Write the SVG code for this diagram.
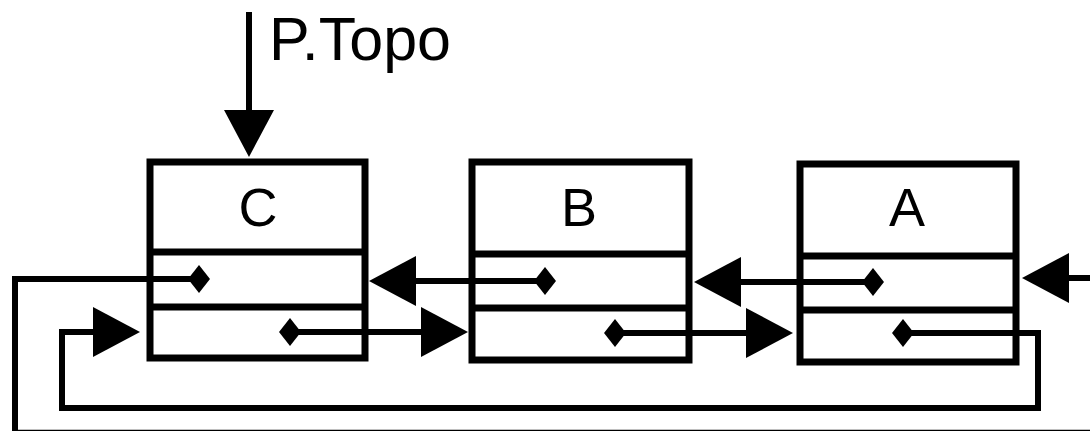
<svg xmlns="http://www.w3.org/2000/svg" width="1090" height="431" viewBox="0 0 1090 431">
  <style>
    .box { fill: #fff; stroke: #000; stroke-width: 7; }
    .div { stroke: #000; stroke-width: 7; }
    .lbl { font-family: "Liberation Sans", Arial, sans-serif; font-size: 54px; fill: #000; text-anchor: middle; }
    .top { font-family: "Liberation Sans", Arial, sans-serif; font-size: 61px; fill: #000; }
    .ln { fill: none; stroke: #000; stroke-width: 6; stroke-linejoin: miter; }
  </style>
  <defs>
    <marker id="arr" markerUnits="userSpaceOnUse" markerWidth="50" markerHeight="52" viewBox="0 -26 50 52" refX="1" refY="0" orient="auto">
      <path d="M0,-25 L47,0 L0,25 Z" fill="#000"/>
    </marker>
    <marker id="dia" markerUnits="userSpaceOnUse" markerWidth="26" markerHeight="32" viewBox="-13 -16 26 32" refX="0" refY="0" orient="auto">
      <path d="M-11,0 L0,-14 L11,0 L0,14 Z" fill="#000"/>
    </marker>
  </defs>

  <g id="node-C">
    <rect class="box" x="150" y="162" width="215" height="196"/>
    <line class="div" x1="150" y1="252" x2="365" y2="252"/>
    <line class="div" x1="150" y1="307" x2="365" y2="307"/>
    <text class="lbl" x="258" y="226">C</text>
  </g>
  <g id="node-B">
    <rect class="box" x="472" y="162" width="217" height="198"/>
    <line class="div" x1="472" y1="254" x2="689" y2="254"/>
    <line class="div" x1="472" y1="308" x2="689" y2="308"/>
    <text class="lbl" x="579" y="226">B</text>
  </g>
  <g id="node-A">
    <rect class="box" x="800" y="164" width="216" height="198"/>
    <line class="div" x1="800" y1="256" x2="1016" y2="256"/>
    <line class="div" x1="800" y1="310" x2="1016" y2="310"/>
    <text class="lbl" x="907" y="226">A</text>
  </g>

  <g id="label-topo">
    <text class="top" x="269" y="60">P.Topo</text>
  </g>

  <g id="connectors">
    <path class="ln" d="M249,12 V111" stroke-width="5" marker-end="url(#arr)"/>
    <path class="ln" d="M199,279 H15 V431" marker-start="url(#dia)"/>
    <path class="ln" d="M290,332 H422" marker-start="url(#dia)" marker-end="url(#arr)"/>
    <path class="ln" d="M545,281 H415" marker-start="url(#dia)" marker-end="url(#arr)"/>
    <path class="ln" d="M615,333 H747" marker-start="url(#dia)" marker-end="url(#arr)"/>
    <path class="ln" d="M873,282 H740" marker-start="url(#dia)" marker-end="url(#arr)"/>
    <path class="ln" d="M1090,278 H1068" marker-end="url(#arr)"/>
    <path class="ln" d="M903,333 H1038 V408 H62 V332 H94" stroke-width="5" marker-start="url(#dia)" marker-end="url(#arr)"/>
    <line x1="15" y1="430.5" x2="1090" y2="430.5" stroke="#000" stroke-width="1.5"/>
  </g>
</svg>
